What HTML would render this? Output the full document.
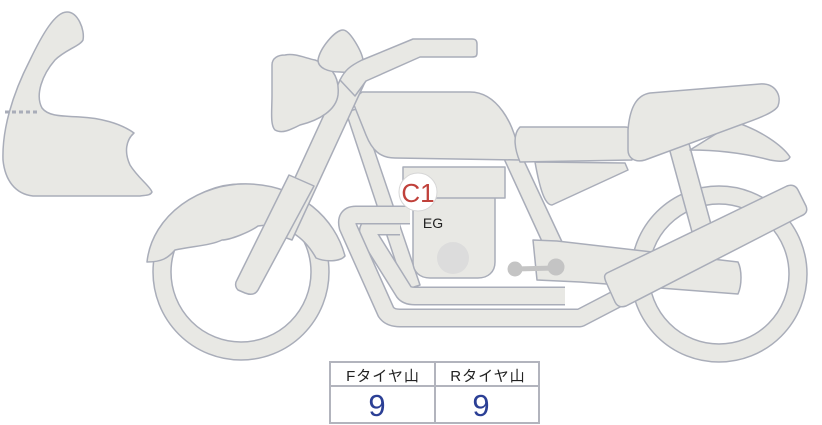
<!DOCTYPE html>
<html><head><meta charset="utf-8"><style>
html,body{margin:0;padding:0;background:#fff;width:822px;height:425px;overflow:hidden}
svg{display:block}
</style></head><body>
<svg width="822" height="425" viewBox="0 0 822 425" xmlns="http://www.w3.org/2000/svg">
<g fill="#e8e8e4" stroke="#a9adb9" stroke-width="1.5" stroke-linejoin="round">
<path d="M67,12 C78,12 85,30 83,40 C80,46 65,50 55,60 C42,75 35,95 42,108 C48,116 60,116 80,117 C100,118 120,123 134,133 C126,140 124,152 130,165 C138,178 150,186 152,192 C150,196 145,195 140,196 L33,196 C15,194 5,180 3,160 C2,130 12,95 30,60 C42,35 55,12 67,12 Z"/>
<circle cx="241" cy="272" r="88"/>
<circle cx="241" cy="272" r="70" fill="#fff"/>
<circle cx="719" cy="274" r="88"/>
<circle cx="719" cy="274" r="70" fill="#fff"/>
<path d="M147,262 C152,215 200,182 250,184 C300,186 335,218 345,256 C340,262 325,262 316,258 C305,238 285,222 258,226 C250,232 230,240 222,240 C212,245 195,246 175,250 C168,258 162,262 147,262 Z"/>
<path d="M500,150 L518,148 L563,244 L545,248 Z"/>
<path d="M668,144 L688,140 L712,228 L692,232 Z"/>
<path d="M346,112 L360,108 L420,285 L405,290 Z"/>
<path d="M362,92 L470,92 C495,92 515,120 520,160 L395,158 C380,158 372,150 366,135 L352,100 Z"/>
<path d="M520,127 L625,127 C630,127 632,130 632,135 L632,160 L520,162 C515,150 512,135 520,127 Z"/>
<path d="M535,162 L625,163 L628,170 L552,205 C545,205 540,190 535,162 Z"/>
<path d="M735,122 C760,130 782,145 790,157 C788,162 780,162 770,160 C740,152 710,150 690,150 Z"/>
<path d="M650,93 L760,84 C775,83 782,95 778,106 C775,112 760,118 740,125 L645,160 C635,163 628,158 628,150 L628,130 C630,105 638,95 650,93 Z"/>
</g>
<!-- exhaust pipes -->
<g fill="none" stroke-linejoin="round">
<path d="M400,226 L375,226 Q366,226 369,236 L404,292 Q407,296 415,296 L565,296" stroke="#a9adb9" stroke-width="19"/>
<path d="M400,226 L375,226 Q366,226 369,236 L404,292 Q407,296 415,296 L565,296" stroke="#e8e8e4" stroke-width="16"/>
<path d="M410,215 L356,215 Q345,215 348,227 L386,312 Q390,318 400,318 L580,318 L630,292" stroke="#a9adb9" stroke-width="19"/>
<path d="M410,215 L356,215 Q345,215 348,227 L386,312 Q390,318 400,318 L580,318 L630,292" stroke="#e8e8e4" stroke-width="16"/>
</g>
<g fill="#e8e8e4" stroke="#a9adb9" stroke-width="1.5" stroke-linejoin="round">
<path d="M413,196 L495,196 L495,262 C495,272 488,278 478,278 L430,278 C420,278 413,272 413,262 Z"/>
<rect x="403" y="167" width="102" height="31"/>
<path d="M533,240 L557,241 L738,262 C742,270 742,285 738,294 L580,282 L537,280 Z"/>
</g>
<circle cx="453" cy="258" r="16" fill="#dcdcdc"/>
<g fill="#e8e8e4" stroke="#a9adb9" stroke-width="1.5" stroke-linejoin="round">
<path d="M607,273 L787,186 C792,184 796,186 798,190 L806,206 C808,211 806,214 801,216 L626,306 C620,308 617,306 615,302 L606,282 C604,277 604,275 607,273 Z"/>
<path d="M340,80 L365,82 L292,240 L270,232 Z"/>
<path d="M289,175 L314,186 L258,290 C255,295 250,295 245,293 L238,290 C235,287 235,283 237,280 Z"/>
<path d="M285,55 C295,53 305,58 315,60 C330,65 340,75 338,95 C336,110 320,120 300,125 C290,130 282,134 275,130 C270,125 272,110 272,95 L272,65 C272,58 278,55 285,55 Z"/>
<path d="M343,30 C350,30 362,52 363,60 C360,70 350,73 340,72 C328,72 318,68 318,60 C320,48 335,30 343,30 Z"/>
<path d="M340,80 C345,70 350,66 362,60 L413,39 L472,39 C476,39 477,41 477,44 L477,53 C477,56 476,57 472,57 L420,57 L366,81 L355,96 Z"/>
</g>
<g fill="#c4c4c4" stroke="#c4c4c4">
<line x1="515" y1="269" x2="556" y2="268" stroke-width="5"/>
<circle cx="515" cy="269" r="7"/>
<circle cx="556" cy="267" r="8"/>
</g>
<line x1="5" y1="112" x2="40" y2="112" stroke="#a9adb9" stroke-width="3" stroke-dasharray="4,3"/>
<circle cx="418" cy="192" r="19" fill="#fff" stroke="#d6d6d6" stroke-width="1"/>
<text x="418" y="202" font-family="Liberation Sans, sans-serif" font-size="26" fill="#c0413b" text-anchor="middle">C1</text>
<text x="433" y="228" font-family="Liberation Sans, sans-serif" font-size="14" fill="#222" text-anchor="middle">EG</text>
<g stroke="#b2b4bd" stroke-width="2" fill="#fff">
<rect x="330" y="362" width="209" height="61"/>
<line x1="330" y1="386" x2="539" y2="386"/>
<line x1="435" y1="362" x2="435" y2="423"/>
</g>
<g font-family="Liberation Sans, 'Noto Sans CJK JP', sans-serif" font-size="15" fill="#222" text-anchor="middle" letter-spacing="1">
<text x="383" y="381">Fタイヤ山</text>
<text x="488" y="381">Rタイヤ山</text>
</g>
<g font-family="Liberation Sans, sans-serif" font-size="31" fill="#2b3f95" text-anchor="middle">
<text x="377" y="416">9</text>
<text x="481" y="416">9</text>
</g>
</svg>
</body></html>
